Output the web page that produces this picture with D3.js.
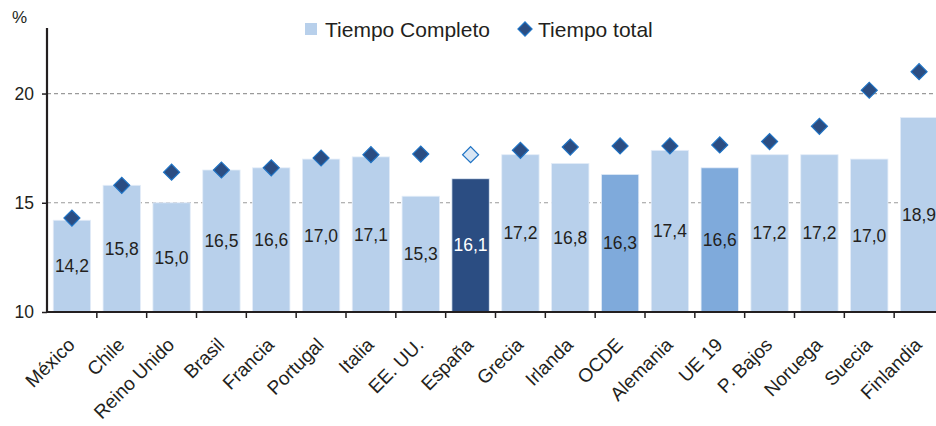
<!DOCTYPE html>
<html><head><meta charset="utf-8">
<script src="https://cdn.jsdelivr.net/npm/d3@7"></script>
<style>body{margin:0;background:#fff}svg{display:block;font-family:"Liberation Sans",Arial,sans-serif}</style>
</head><body><svg id="c" width="936" height="426"></svg>
<script>
const categories = ["México","Chile","Reino Unido","Brasil","Francia","Portugal","Italia","EE. UU.","España","Grecia","Irlanda","OCDE","Alemania","UE 19","P. Bajos","Noruega","Suecia","Finlandia"];
const tiempoCompleto = [14.2,15.8,15.0,16.5,16.6,17.0,17.1,15.3,16.1,17.2,16.8,16.3,17.4,16.6,17.2,17.2,17.0,18.9];
const tiempoTotal = [14.3,15.8,16.4,16.5,16.6,17.05,17.2,17.23,17.2,17.4,17.55,17.6,17.6,17.65,17.8,18.5,20.15,21.0];
const yTicks = [10,15,20];
const seriesNames = ["Tiempo Completo","Tiempo total"];

(function(){
const svg = d3.select("#c");
const mLeft = 47, mRight = 944, mTop = 28, mBottom = 312;
const x = d3.scaleBand().domain(categories).range([mLeft, mRight]).paddingInner(0.25).paddingOuter(0.125);
const y = d3.scaleLinear().domain([10, 23]).range([mBottom, mTop]);

const barColor = c => c === "España" ? "#2b4d82" : (c === "OCDE" || c === "UE 19") ? "#7faadb" : "#b8d0eb";

svg.append("g").selectAll("line").data([15,20]).join("line")
  .attr("x1", mLeft).attr("x2", 936).attr("y1", d => y(d)).attr("y2", d => y(d))
  .attr("stroke", "#9a9a9a").attr("stroke-width", 1.2).attr("stroke-dasharray", "4,3");

svg.append("g").selectAll("rect").data(categories).join("rect")
  .attr("x", d => x(d)).attr("width", x.bandwidth())
  .attr("y", (d,i) => y(tiempoCompleto[i])).attr("height", (d,i) => mBottom - y(tiempoCompleto[i]))
  .attr("fill", barColor).attr("stroke", "#e4edf8").attr("stroke-width", 0.8);

svg.append("g").selectAll("text").data(categories).join("text")
  .attr("x", d => x(d) + x.bandwidth()/2)
  .attr("y", (d,i) => (y(tiempoCompleto[i]) + mBottom)/2)
  .attr("dy", "0.35em").attr("text-anchor", "middle")
  .attr("font-size", 17.5).attr("fill", d => d === "España" ? "#ffffff" : "#231f20")
  .text((d,i) => tiempoCompleto[i].toFixed(1).replace(".", ","));

const diamond = d3.symbol().type(d3.symbolSquare).size(128);
svg.append("g").selectAll("path").data(categories).join("path")
  .attr("d", diamond)
  .attr("transform", (d,i) => `translate(${x(d) + x.bandwidth()/2},${y(tiempoTotal[i])}) rotate(45)`)
  .attr("fill", d => d === "España" ? "#d9e6f4" : "#2b4d82")
  .attr("stroke", "#1f73c4").attr("stroke-width", 1.2);

const yAxis = d3.axisLeft(y).tickValues(yTicks).tickSize(5).tickSizeOuter(0);
const gy = svg.append("g").attr("transform", `translate(${mLeft},0)`).call(yAxis);
gy.select(".domain").attr("stroke", "#231f20").attr("stroke-width", 2.2).attr("d", `M0,${mTop}V${mBottom}`);
gy.selectAll(".tick line").attr("stroke", "#231f20").attr("stroke-width", 1.5);
gy.selectAll(".tick text").attr("font-size", 17.5).attr("fill", "#231f20").attr("x", -13).attr("font-family", "Liberation Sans, Arial, sans-serif");

const gx = svg.append("g").attr("transform", `translate(0,${mBottom})`);
gx.append("line").attr("x1", mLeft - 1).attr("x2", 936).attr("stroke", "#231f20").attr("stroke-width", 2.2);
const bounds = categories.map(c => x(c) - x.step()*x.paddingInner()/2).slice(1);
gx.selectAll(".xt").data(bounds).join("line").attr("class","xt")
  .attr("x1", d => d).attr("x2", d => d).attr("y1", 0).attr("y2", 6)
  .attr("stroke", "#231f20").attr("stroke-width", 1.5);
gx.selectAll(".xl").data(categories).join("text").attr("class","xl")
  .attr("transform", d => `translate(${x(d) + x.bandwidth()/2 + 4},${34}) rotate(-45)`)
  .attr("text-anchor", "end")
  .attr("font-size", 19).attr("fill", "#231f20").text(d => d);

svg.append("text").attr("x", 12).attr("y", 23).attr("font-size", 17).attr("fill", "#231f20").text("%");

const lg = svg.append("g");
lg.append("rect").attr("x", 305).attr("y", 23).attr("width", 12).attr("height", 12).attr("fill", "#b8d0eb");
lg.append("text").attr("x", 325).attr("y", 37).attr("font-size", 21).attr("fill", "#231f20").text(seriesNames[0]);
lg.append("path").attr("d", d3.symbol().type(d3.symbolSquare).size(100))
  .attr("transform", "translate(525,29) rotate(45)").attr("fill", "#2b4d82").attr("stroke", "#1f73c4").attr("stroke-width", 1.2);
lg.append("text").attr("x", 538).attr("y", 37).attr("font-size", 21).attr("fill", "#231f20").text(seriesNames[1]);
})();
</script></body></html>
